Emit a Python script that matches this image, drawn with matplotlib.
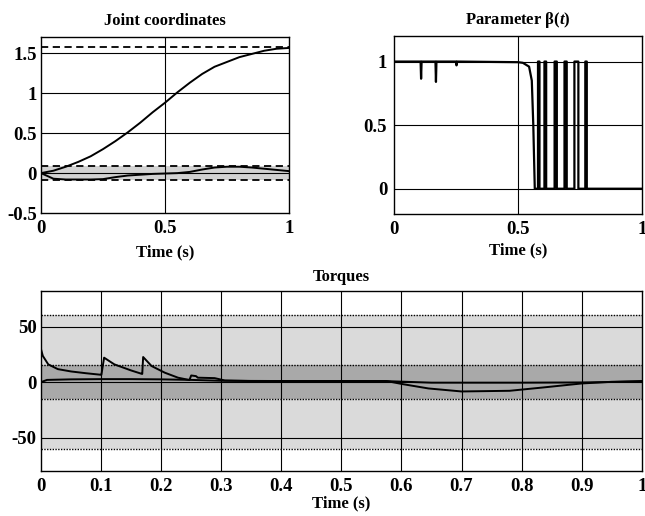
import matplotlib
matplotlib.use("Agg")
import matplotlib.pyplot as plt
import numpy as np

plt.rcParams["font.family"] = ["Liberation Serif", "DejaVu Serif"]
plt.rcParams["font.weight"] = "bold"
plt.rcParams["mathtext.fontset"] = "custom"
plt.rcParams["mathtext.rm"] = "Liberation Serif:bold"
plt.rcParams["mathtext.it"] = "Liberation Serif:italic:bold"

# joint coordinates (rad)
t_joint = [0, 0.05, 0.1, 0.15, 0.2, 0.25, 0.3, 0.35, 0.4, 0.45, 0.5,
           0.55, 0.6, 0.65, 0.7, 0.75, 0.8, 0.85, 0.9, 0.95, 1.0]
q1 = [0, 0.03, 0.08, 0.14, 0.21, 0.30, 0.40, 0.51, 0.63, 0.76, 0.88,
      1.01, 1.13, 1.24, 1.33, 1.39, 1.45, 1.49, 1.53, 1.555, 1.565]
q2 = [0, -0.07, -0.08, -0.08, -0.08, -0.075, -0.05, -0.03, -0.02, -0.01, -0.005,
      0.0, 0.015, 0.045, 0.07, 0.08, 0.08, 0.07, 0.055, 0.04, 0.025]
q_final = 1.5708
q_tol = 0.087

# parameter beta(t): smooth part, then switching pulses back to 1
beta_t = [0.0, 0.107, 0.109, 0.111, 0.167, 0.169, 0.171, 0.250, 0.252, 0.254,
          0.50, 0.52, 0.545, 0.556, 0.562, 0.568]
beta_v = [1.0, 1.0, 0.865, 1.0, 1.0, 0.84, 1.0, 1.0, 0.97, 1.0,
          0.995, 0.99, 0.96, 0.85, 0.5, 0.0]
beta_pulses = [(0.581, 0.587), (0.607, 0.614), (0.648, 0.657),
               (0.688, 0.697), (0.728, 0.744), (0.772, 0.778)]

# torques
tau1_t = [0, 0.003, 0.012, 0.028, 0.05, 0.075, 0.1, 0.1005, 0.105, 0.122, 0.15,
          0.168, 0.1685, 0.17, 0.184, 0.206, 0.228, 0.247, 0.25, 0.258, 0.261,
          0.289, 0.306, 0.35, 0.45, 0.57, 0.65, 0.8, 0.9, 1.0]
tau1 = [29.6, 23.6, 16, 11.7, 9.6, 8.0, 6.6, 6.6, 22, 16, 10.5,
        7.4, 7.4, 22.6, 14.5, 8.5, 4, 1.9, 6, 5.4, 4,
        3.6, 1.5, 1.0, 1.0, 1.0, -0.5, -0.5, -0.3, 0.5]
tau2_t = [0, 0.01, 0.05, 0.1, 0.15, 0.2, 0.25, 0.3, 0.4, 0.5, 0.575, 0.602,
          0.645, 0.70, 0.78, 0.836, 0.9, 0.95, 1.0]
tau2 = [0, 2.0, 2.5, 2.7, 2.7, 2.5, 2.0, 1.2, 1.0, 1.0, 1.0, -1.8,
        -5.7, -8.4, -7.8, -4.8, -1.2, 0.3, 1.0]
tau_outer = 60
tau_inner = 15

line_kw = dict(color="black", lw=1.4)
grid_kw = dict(color="black", lw=0.8, zorder=1)

fig = plt.figure(figsize=(6.45, 5.16), dpi=100)
ax1 = fig.add_axes([0.0636, 0.587, 0.3844, 0.341])
ax2 = fig.add_axes([0.611, 0.585, 0.384, 0.345])
ax3 = fig.add_axes([0.0636, 0.0872, 0.9314, 0.3488])

# --- joint coordinates
ax1.fill_between([0, 1], -q_tol, q_tol, color="#d2d2d2", lw=0, zorder=0)
for y in (-q_tol, q_tol, q_final):
    ax1.axhline(y, color="black", ls=(0, (4, 2.5)), lw=1.3, zorder=2)
for y in (0, 0.5, 1, 1.5):
    ax1.axhline(y, **grid_kw)
ax1.axvline(0.5, **grid_kw)
ax1.plot(t_joint, q1, zorder=3, **line_kw)
ax1.plot(t_joint, q2, zorder=3, **line_kw)
ax1.set_xlim(0, 1)
ax1.set_ylim(-0.5, 1.7)
ax1.set_xticks([0, 0.5, 1])
ax1.set_xticklabels(["0", "0.5", "1"])
ax1.set_yticks([-0.5, 0, 0.5, 1, 1.5])
ax1.set_yticklabels(["-0.5", "0", "0.5", "1", "1.5"])
ax1.set_title("Joint coordinates", fontsize=12, fontweight="bold", pad=9)
ax1.set_xlabel("Time (s)", fontsize=12, fontweight="bold", labelpad=5)

# --- beta(t)
bt = list(beta_t)
bv = list(beta_v)
for start, end in beta_pulses:
    bt += [start, start, end, end]
    bv += [0.0, 1.0, 1.0, 0.0]
bt.append(1.0)
bv.append(0.0)
for y in (0, 0.5, 1):
    ax2.axhline(y, **grid_kw)
ax2.axvline(0.5, **grid_kw)
ax2.plot(bt, bv, zorder=3, color="black", lw=1.6)
ax2.set_xlim(0, 1)
ax2.set_ylim(-0.2, 1.2)
ax2.set_xticks([0, 0.5, 1])
ax2.set_xticklabels(["0", "0.5", "1"])
ax2.set_yticks([0, 0.5, 1])
ax2.set_yticklabels(["0", "0.5", "1"])
ax2.set_title(r"Parameter β$\mathit{(t)}$", fontsize=12, fontweight="bold", pad=9)
ax2.set_xlabel("Time (s)", fontsize=12, fontweight="bold", labelpad=3)

# --- torques
ax3.fill_between([0, 1], -tau_outer, tau_outer, color="#dadada", lw=0, zorder=0)
ax3.fill_between([0, 1], -tau_inner, tau_inner, color="#a9a9a9", lw=0, zorder=0)
for y in (-tau_outer, tau_outer, -tau_inner, tau_inner):
    ax3.axhline(y, color="black", ls=(0, (1, 1)), lw=1.0, zorder=1)
for y in (-50, 0, 50):
    ax3.axhline(y, **grid_kw)
for x in np.arange(1, 10) / 10:
    ax3.axvline(x, **grid_kw)
ax3.plot(tau1_t, tau1, zorder=3, **line_kw)
ax3.plot(tau2_t, tau2, zorder=3, **line_kw)
ax3.set_xlim(0, 1)
ax3.set_ylim(-80, 82)
xt = np.arange(11) / 10
ax3.set_xticks(xt)
ax3.set_xticklabels(["0"] + [f"{x:.1f}" for x in xt[1:-1]] + ["1"])
ax3.set_yticks([-50, 0, 50])
ax3.set_yticklabels(["-50", "0", "50"])
ax3.set_title("Torques", fontsize=12, fontweight="bold", pad=7)
ax3.set_xlabel("Time (s)", fontsize=12, fontweight="bold", labelpad=0)

for ax in (ax1, ax2, ax3):
    ax.tick_params(length=0, labelsize=13.5, pad=5)
    for lab in ax.get_xticklabels() + ax.get_yticklabels():
        lab.set_fontweight("bold")
    for sp in ax.spines.values():
        sp.set_linewidth(1.0)
ax1.tick_params(axis="y", pad=3)
ax3.tick_params(axis="y", pad=3)

fig.savefig("out.png", dpi=100)
